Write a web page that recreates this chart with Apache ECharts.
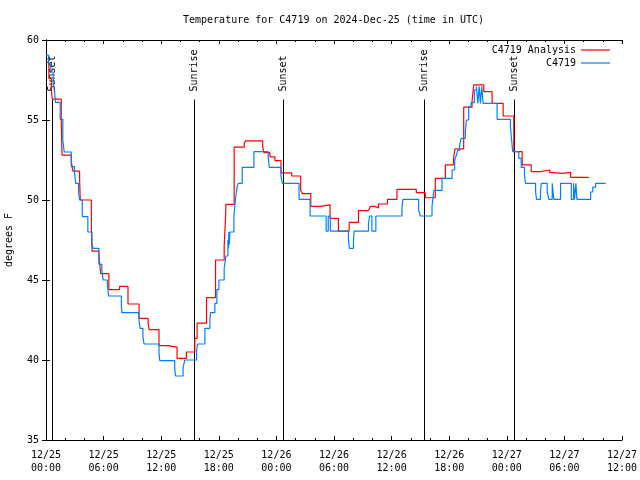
<!DOCTYPE html>
<html><head><meta charset="utf-8">
<script src="https://cdn.jsdelivr.net/npm/echarts@6/dist/echarts.min.js"></script>
<style>html,body{margin:0;padding:0;background:#fff}#c{width:640px;height:480px}</style>
</head><body><div id="c"></div>
<script>
// Hours since 2024-12-25 00:00 UTC
const titleText = 'Temperature for C4719 on 2024-Dec-25 (time in UTC)';
const xTickLabels = ['12/25\n00:00','12/25\n06:00','12/25\n12:00','12/25\n18:00','12/26\n00:00','12/26\n06:00','12/26\n12:00','12/26\n18:00','12/27\n00:00','12/27\n06:00','12/27\n12:00'];
const yAxisName = 'degrees F';
const analysisName = 'C4719 Analysis';
const obsName = 'C4719';

const analysisData = [
  [0,58.6],[0.3,57.6],[0.55,57.0],[0.65,56.3],[1.59,54.8],[1.67,52.8],[2.63,52.4],[2.80,51.8],
  [3.50,51.3],[3.57,50.0],[4.72,48.3],[4.80,46.8],[5.51,46.5],[5.70,45.4],[6.55,44.4],[7.67,44.6],
  [8.54,43.5],[9.69,42.6],[10.63,42.3],[10.75,41.9],[11.77,40.9],[12.71,40.8],[13.65,40.1],[14.63,40.5],
  [15.50,41.35],[15.74,42.3],[16.72,43.9],[17.66,46.25],[18.56,47.1],[18.70,48.9],[18.74,49.73],[19.60,53.3],
  [20.65,53.54],[20.79,53.7],[22.57,53.33],[22.70,52.96],[23.33,52.7],[23.85,52.46],[24.48,51.7],[25.59,51.5],
  [26.53,50.6],[26.70,50.4],[27.58,49.6],[28.55,49.7],[29.59,48.85],[30.46,48.06],[31.58,48.6],[32.55,49.33],
  [33.59,49.4],[33.77,49.6],[34.29,49.5],[34.64,49.75],[35.57,50.04],[36.56,50.67],[38.57,50.46],[39.51,50.14],
  [40.55,51.35],[41.60,52.2],[42.46,52.6],[42.60,53.2],[43.51,55.8],[44.38,56.15],[44.55,57.2],[45.60,56.77],
  [46.47,56.04],[47.62,55.25],[48.73,53.02],[49.60,52.2],[50.54,51.77],[51.51,51.875],[52.48,51.71],[52.80,51.67],
  [53.78,51.73],[54.65,51.42],[56.55,51.42]
];

const obsData = [
  [0,59.06],[0.26,58.5],[0.5,58.0],[0.75,57.3],[0.89,56.8],[0.99,56.1],[1.48,55.04],[1.75,53.75],[1.9,53.0],
  [2.63,52.08],[2.97,51.67],[3.10,51.04],[3.39,50.5],[3.50,50.0],[3.78,48.96],[4.36,48.0],[4.78,47.3],[4.90,46.98],
  [5.51,45.98],[5.82,45.6],[5.95,45.0],[6.39,44.7],[6.52,44.0],[7.85,43.4],[7.91,42.96],[9.69,42.5],[9.80,41.98],
  [10.10,41.46],[10.21,41.0],[11.77,40.5],[11.85,39.96],[13.41,39.48],[13.49,39.0],[14.28,39.54],[14.46,40.0],
  [15.68,40.5],[15.78,41.0],[16.55,41.98],[17.07,42.5],[17.14,42.96],[17.59,43.54],[17.80,44.4],[18.01,45.0],
  [18.56,45.73],[18.74,46.5],[18.95,47.5],[19.0,46.98],[19.05,48.0],[19.10,47.2],[19.15,48.0],[19.57,48.96],
  [19.67,49.6],[19.78,50.3],[19.91,50.8],[20.02,51.04],[20.44,52.04],[21.66,53.02],[23.15,52.67],[23.26,52.04],
  [24.48,51.46],[24.62,51.04],[26.36,50.04],[27.51,49.0],[29.18,48.06],[29.40,49.0],[29.62,48.06],[31.50,47.54],
  [31.61,46.98],[32.03,47.5],[32.10,48.06],[33.59,48.5],[33.70,49.0],[33.94,48.06],[34.36,49.0],[37.08,49.54],
  [37.18,50.04],[38.81,49.4],[38.99,49.0],[40.21,49.6],[40.40,50.6],[41.25,51.35],[42.30,51.875],[42.57,52.5],
  [42.75,52.8],[42.88,53.1],[43.09,53.44],[43.24,53.85],[43.68,54.27],[43.79,55.0],[44.03,55.83],[44.28,56.08],
  [44.62,56.875],[44.83,57.1],[44.98,56.04],[45.12,57.1],[45.25,56.04],[45.39,57.1],[45.53,56.04],[46.99,55.04],
  [48.38,54.6],[48.50,53.75],[48.62,53.02],[49.25,52.6],[49.50,52.04],[49.84,51.56],[49.95,51.04],[51.00,50.5],
  [51.10,50.04],[51.51,50.5],[51.59,51.04],[52.21,50.5],[52.38,50.04],[52.73,51.04],[52.90,50.04],[53.60,51.04],
  [54.72,50.04],[54.95,51.04],[55.05,50.04],[55.20,51.04],[55.30,50.04],[56.73,50.5],[56.95,50.8],[57.25,51.04],
  [58.30,51.04]
];

const eventTimes = [0.65, 15.4, 24.69, 39.4, 48.7];
const eventNames = ['Sunset','Sunrise','Sunset','Sunrise','Sunset'];

const FONT = 'DejaVu Sans Mono';
const eventLineTop = 56.28;
const RED = '#ff0000', BLUE = '#0080ff';

const chart = echarts.init(document.getElementById('c'), null, {renderer:'canvas'});
const xAxisBase = {
  type:'value', min:0, max:60, interval:6,
  axisLine:{show:true, lineStyle:{color:'#000', width:1}},
  axisTick:{show:true, inside:true, length:4, lineStyle:{color:'#000'}},
  minorTick:{show:true, splitNumber:3, length:2, lineStyle:{color:'#000'}},
  splitLine:{show:false}
};
const yAxisBase = {
  type:'value', min:35, max:60, interval:5,
  axisLine:{show:true, lineStyle:{color:'#000', width:1}},
  axisTick:{show:true, inside:true, length:4, lineStyle:{color:'#000'}},
  splitLine:{show:false}
};
const legendBase = {orient:'vertical', align:'right', padding:0, right:30,
  icon:'rect', itemWidth:29, itemHeight:1.2,
  textStyle:{fontFamily:FONT, fontSize:10, color:'#000'}};
const option = {
  animation:false,
  backgroundColor:'#fff',
  title:{text:titleText, left:183, top:15, padding:0,
    textStyle:{fontFamily:FONT, fontSize:10, fontWeight:'normal', color:'#000'}},
  legend:[
    Object.assign({}, legendBase, {data:[analysisName], top:45}),
    Object.assign({}, legendBase, {data:[obsName], top:58})
  ],
  grid:{left:46, right:18, top:40, bottom:40, containLabel:false, outerBoundsMode:'none'},
  xAxis:[
    Object.assign({}, xAxisBase, {position:'bottom',
      axisLabel:{show:true, margin:9, fontFamily:FONT, fontSize:10, color:'#000', lineHeight:13,
        formatter:(v)=>xTickLabels[Math.round(v/6)]}}),
    Object.assign({}, xAxisBase, {position:'top', axisLabel:{show:false}})
  ],
  yAxis:[
    Object.assign({}, yAxisBase, {position:'left', name:yAxisName, nameLocation:'middle', nameRotate:90, nameGap:32,
      nameTextStyle:{fontFamily:FONT, fontSize:10, color:'#000'},
      axisLabel:{show:true, margin:7, fontFamily:FONT, fontSize:10, color:'#000'}}),
    Object.assign({}, yAxisBase, {position:'right', axisLabel:{show:false}})
  ],
  series:[
    {type:'custom', name:'events', xAxisIndex:0, yAxisIndex:0, clip:false, silent:true,
     data:eventTimes.map(t=>[t,35]),
     renderItem:(params, api)=>{
       const t = api.value(0);
       const p0 = api.coord([t,35]);
       const p1 = api.coord([t,eventLineTop]);
       const x = Math.round(p0[0]) + 0.5;
       return {type:'group', children:[
         {type:'line', shape:{x1:x, y1:p0[1], x2:x, y2:p1[1]}, style:{stroke:'#000', lineWidth:1}},
         {type:'text', x:x, y:p1[1]-8, rotation:Math.PI/2,
          style:{text:eventNames[params.dataIndex], font:'10px "'+FONT+'"', fill:'#000', align:'left', verticalAlign:'middle'}}
       ]};
     }},
    {type:'line', name:analysisName, data:analysisData, step:'end', symbol:'none', showSymbol:false,
     lineStyle:{color:RED, width:1.2}, itemStyle:{color:RED}},
    {type:'line', name:obsName, data:obsData, step:'end', symbol:'none', showSymbol:false,
     lineStyle:{color:BLUE, width:1.2}, itemStyle:{color:BLUE}}
  ]
};
chart.setOption(option);
</script></body></html>
